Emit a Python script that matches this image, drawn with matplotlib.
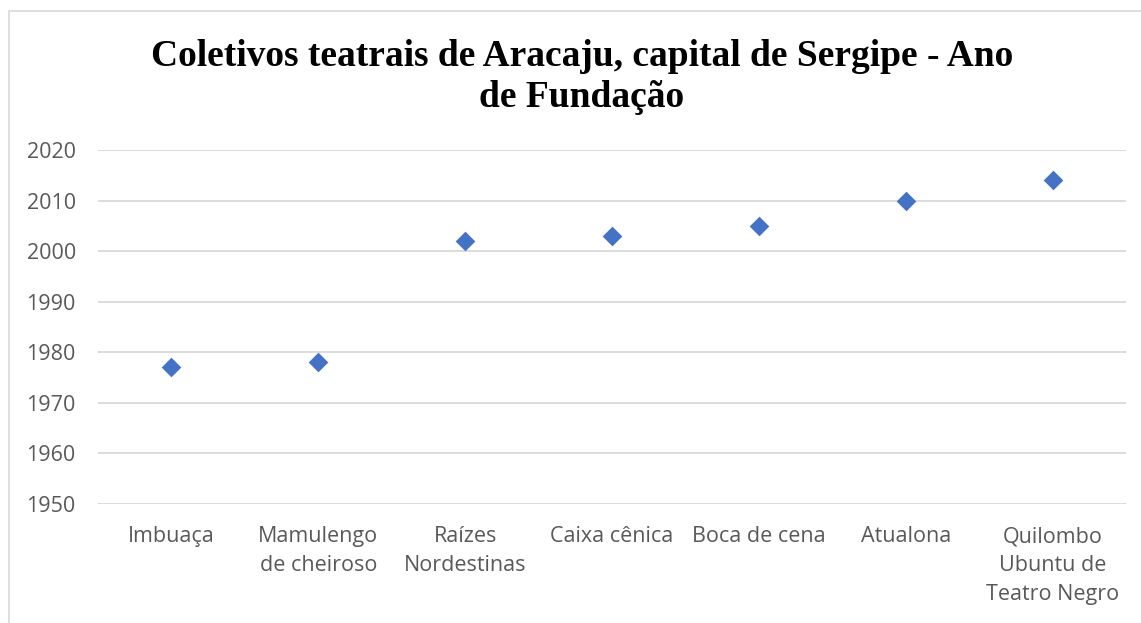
import matplotlib
matplotlib.use("Agg")
import matplotlib.pyplot as plt
from matplotlib.patches import Rectangle

#---------------------Dados---------------------------
coletivos = ["Imbuaça", "Mamulengo\nde cheiroso", "Raízes\nNordestinas", "Caixa cênica",
             "Boca de cena", "Atualona", "Quilombo\nUbuntu de\nTeatro Negro"]
ano_fundacao = [1977, 1978, 2002, 2003, 2005, 2010, 2014]
anos_ticks = [1950, 1960, 1970, 1980, 1990, 2000, 2010, 2020]

W, H = 1141, 623
fig = plt.figure(figsize=(W / 100, H / 100), dpi=100)
fig.patch.set_facecolor("white")

# moldura do gráfico (só aparece em cima e à esquerda)
fig.patches.append(Rectangle((9 / W, -0.1), 1.2, 1 - 11 / H + 0.1, transform=fig.transFigure,
                             fill=False, edgecolor="#D9D9D9", linewidth=1.2))

ax = fig.add_axes([98 / W, 1 - 504 / H, (1126 - 98) / W, (504 - 150) / H])

x = list(range(len(coletivos)))
ax.scatter(x, ano_fundacao, marker="D", s=10 ** 2, color="#4472C4", zorder=3, linewidths=0)

ax.set_xlim(-0.5, len(coletivos) - 0.5)
ax.set_ylim(1950, 2020)
ax.set_yticks(anos_ticks)
ax.set_xticks(x)
ax.set_xticklabels(coletivos, linespacing=1.5)
ax.grid(axis="y", color="#D9D9D9", linewidth=1.3)
ax.set_axisbelow(True)
for s in ax.spines.values():
    s.set_visible(False)
ax.tick_params(length=0, labelsize=15.5, labelcolor="#595959")
ax.tick_params(axis="x", pad=16)
ax.tick_params(axis="y", pad=16)
for lab in ax.get_xticklabels() + ax.get_yticklabels():
    lab.set_fontfamily("Open Sans")

fig.text(582 / W, 1 - 77 / H, "Coletivos teatrais de Aracaju, capital de Sergipe - Ano\nde Fundação",
         ha="center", va="center", fontsize=27, fontweight="bold", family="Liberation Serif",
         linespacing=1.25)

fig.savefig("out.png", dpi=100)
